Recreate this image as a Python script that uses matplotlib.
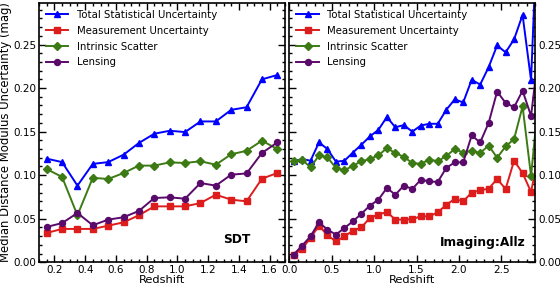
import matplotlib
matplotlib.use('Agg')
import matplotlib.pyplot as plt
from matplotlib.ticker import MultipleLocator, FormatStrFormatter
import numpy as np

# SDT panel
z_sdt = np.round(np.arange(0.15, 1.70, 0.1), 2)
tot_sdt = [0.119, 0.115, 0.088, 0.113, 0.115, 0.1235, 0.137, 0.1476, 0.151, 0.1495,
           0.1617, 0.1617, 0.175, 0.178, 0.210, 0.215]
meas_sdt = [0.0337, 0.0383, 0.0383, 0.0383, 0.042, 0.0459, 0.054, 0.0642, 0.0642, 0.0642,
            0.068, 0.0776, 0.0719, 0.070, 0.096, 0.1025]
intr_sdt = [0.107, 0.098, 0.054, 0.097, 0.0956, 0.1025, 0.111, 0.111, 0.1147, 0.114,
            0.116, 0.112, 0.124, 0.128, 0.1396, 0.130]
lens_sdt = [0.0406, 0.045, 0.0566, 0.0425, 0.049, 0.0517, 0.059, 0.0738, 0.0746, 0.073,
            0.091, 0.088, 0.1006, 0.102, 0.1255, 0.1376]

# Imaging:Allz panel
z_all = np.round(np.arange(0.05, 3.0, 0.1), 2)
tot_all = [0.1158, 0.1186, 0.1166, 0.1376, 0.130, 0.1155, 0.1166, 0.126, 0.135, 0.1445,
           0.152, 0.1667, 0.155, 0.1575, 0.150, 0.157, 0.159, 0.159, 0.175, 0.187,
           0.1835, 0.2095, 0.204, 0.224, 0.249, 0.241, 0.256, 0.284, 0.209, 0.45]
meas_all = [0.0088, 0.0153, 0.028, 0.042, 0.031, 0.024, 0.0298, 0.0363, 0.040, 0.051,
            0.0547, 0.0578, 0.049, 0.049, 0.0495, 0.0528, 0.0528, 0.0573, 0.066, 0.0727,
            0.070, 0.080, 0.0826, 0.0845, 0.0956, 0.0842, 0.1166, 0.1025, 0.0807, 0.13]
intr_all = [0.1158, 0.1178, 0.109, 0.1227, 0.1204, 0.1083, 0.1055, 0.111, 0.1158, 0.1186,
            0.1227, 0.131, 0.1255, 0.121, 0.114, 0.113, 0.118, 0.116, 0.122, 0.130,
            0.126, 0.128, 0.1255, 0.134, 0.120, 0.133, 0.1415, 0.179, 0.099, 0.20]
lens_all = [0.0088, 0.019, 0.0298, 0.0459, 0.0375, 0.0318, 0.0394, 0.047, 0.0558, 0.065,
            0.0719, 0.0853, 0.0776, 0.088, 0.0842, 0.0948, 0.0929, 0.0922, 0.1083, 0.1147,
            0.1147, 0.1456, 0.1376, 0.160, 0.196, 0.183, 0.178, 0.197, 0.168, 0.25]

labels = ['Total Statistical Uncertainty', 'Measurement Uncertainty',
          'Intrinsic Scatter', 'Lensing']
styles = [('#0000ff', '^'), ('#dd1c1c', 's'), ('#3c7a14', 'D'), ('#5a0a6a', 'o')]

plt.rcParams['font.family'] = ['DejaVu Sans']
plt.rcParams['font.size'] = 7.4

fig = plt.figure(figsize=(5.6, 2.87), dpi=100)
ax1 = fig.add_axes([39 / 560, 24.7 / 287, 246 / 560, 259.6 / 287])
ax2 = fig.add_axes([289.3 / 560, 24.7 / 287, 246 / 560, 259.6 / 287])


def draw(ax, z, series, name, tx, ty):
    for vals, lab, (c, m) in zip(series, labels, styles):
        ax.plot(z, vals, color=c, marker=m, markersize=4.3, linewidth=1.4,
                markeredgecolor=c, label=lab)
    ax.set_ylim(0, 0.298)
    ax.yaxis.set_major_locator(MultipleLocator(0.05))
    ax.yaxis.set_minor_locator(MultipleLocator(0.01))
    ax.yaxis.set_major_formatter(FormatStrFormatter('%.2f'))
    ax.tick_params(which='both', direction='in', top=True, right=True, bottom=True, left=True)
    ax.tick_params(which='major', length=5, width=1, labelsize=7.5, pad=2)
    ax.tick_params(which='minor', length=2.5, width=1)
    for s in ax.spines.values():
        s.set_linewidth(1.2)
    ax.set_xlabel('Redshift', fontsize=8.2, labelpad=0)
    ax.text(tx, ty, name, transform=ax.transAxes, ha='right', va='center',
            fontsize=8.8, weight='bold')
    ax.legend(loc='upper left', frameon=False, fontsize=7.3, handlelength=2.2,
              borderaxespad=0.3, labelspacing=0.58)


draw(ax1, z_sdt, [tot_sdt, meas_sdt, intr_sdt, lens_sdt], 'SDT', 0.86, 0.087)
ax1.set_xlim(0.1, 1.7)
ax1.xaxis.set_major_locator(MultipleLocator(0.2))
ax1.xaxis.set_minor_locator(MultipleLocator(0.05))
ax1.set_ylabel('Median Distance Modulus Uncertainty (mag)', fontsize=8.4, labelpad=0.5)

draw(ax2, z_all, [tot_all, meas_all, intr_all, lens_all], 'Imaging:Allz', 0.96, 0.078)
ax2.set_xlim(0, 2.9)
ax2.xaxis.set_major_locator(MultipleLocator(0.5))
ax2.xaxis.set_minor_locator(MultipleLocator(0.1))
ax2.tick_params(axis='y', labelleft=False, labelright=True)

fig.savefig('out.png', dpi=100)
